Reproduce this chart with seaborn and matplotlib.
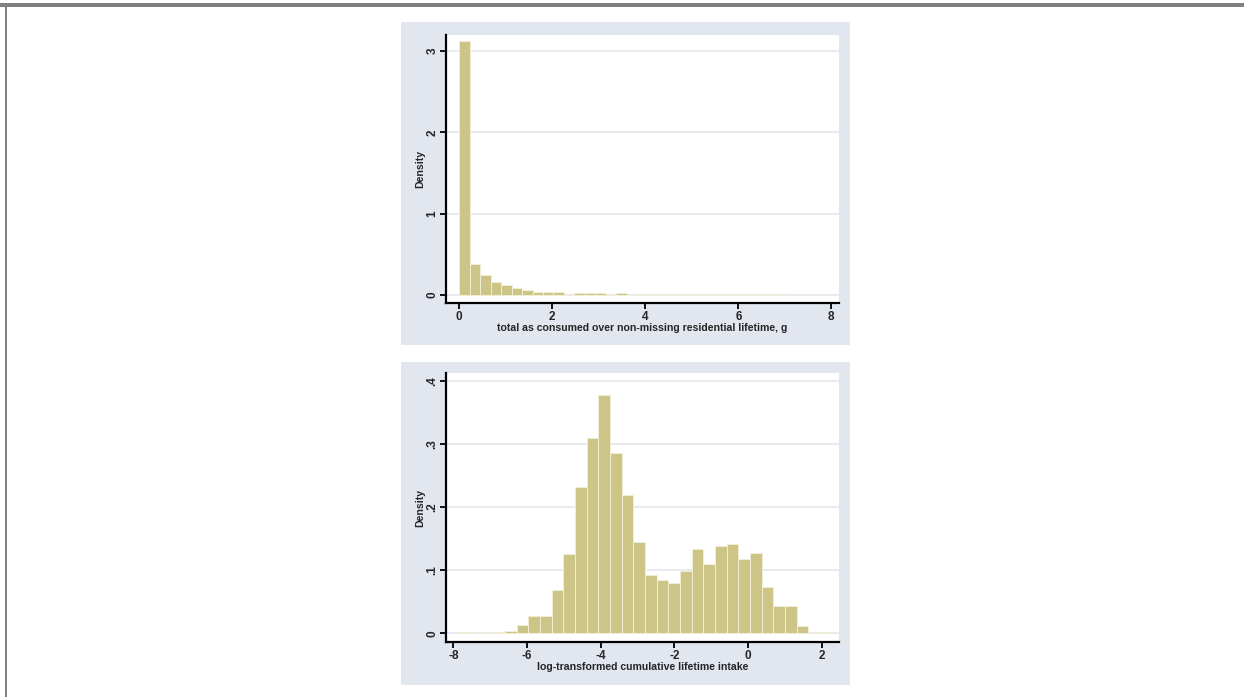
import numpy as np
import pandas as pd
import seaborn as sns
import matplotlib
matplotlib.use("Agg")
import matplotlib.pyplot as plt
from matplotlib.patches import Rectangle

# Histogram densities (32 equal-width bins each)
raw_start, raw_width = 0.0, 0.225
raw_density = [3.12, 0.377, 0.246, 0.164, 0.123, 0.090, 0.060, 0.040,
               0.040, 0.040, 0.0, 0.030, 0.030, 0.030, 0.0, 0.030,
               0.0, 0.0, 0.0, 0.0, 0.0, 0.0, 0.0, 0.0,
               0.0, 0.0, 0.0, 0.0, 0.0, 0.0, 0.0, 0.001]

log_start, log_width = -7.864, 0.3167
log_density = [0.002, 0.0, 0.0, 0.002, 0.004, 0.014, 0.028, 0.028,
               0.069, 0.126, 0.231, 0.310, 0.378, 0.285, 0.219, 0.145,
               0.092, 0.085, 0.079, 0.098, 0.134, 0.110, 0.138, 0.142,
               0.118, 0.128, 0.073, 0.043, 0.043, 0.012, 0.0, 0.002]

raw_label = "total as consumed over non-missing residential lifetime, g"
log_label = "log-transformed cumulative lifetime intake"
raw_ticks = [0, 2, 4, 6, 8]
raw_yticks = [0, 1, 2, 3]
raw_yticklabels = ["0", "1", "2", "3"]
log_ticks = [-8, -6, -4, -2, 0, 2]
log_yticks = [0, 0.1, 0.2, 0.3, 0.4]
log_yticklabels = ["0", ".1", ".2", ".3", ".4"]

BAR = "#cdc487"
PANEL = "#e1e6ef"
GRID = "#e3e7ee"
TEXT = "#262626"
FONT = ["Liberation Sans", "DejaVu Sans"]

sns.set_theme(style="white")
plt.rcParams["font.family"] = FONT

W, H = 1244, 697
fig = plt.figure(figsize=(W / 100, H / 100), dpi=100)
fig.patch.set_facecolor("white")


def fig_rect(x0, y0, x1, y1, **kw):
    fig.patches.append(Rectangle((x0 / W, 1 - y1 / H), (x1 - x0) / W, (y1 - y0) / H,
                                 transform=fig.transFigure, zorder=-10, **kw))


# outer frame: top band and left rule
fig_rect(0, 3, W, 7, facecolor="#808080", edgecolor="none")
fig_rect(5, 3, 7, H, facecolor="#808080", edgecolor="none")
# light panel backgrounds of the two graphs
fig_rect(401, 22, 850, 345, facecolor=PANEL, edgecolor="none")
fig_rect(401, 362, 850, 685, facecolor=PANEL, edgecolor="none")


def hist_panel(rect_px, start, width, dens, xlim, ylim, xticks, yticks, yticklabels, xlabel):
    x0, y0, x1, y1 = rect_px
    ax = fig.add_axes([x0 / W, 1 - y1 / H, (x1 - x0) / W, (y1 - y0) / H])
    ax.set_zorder(1)
    n = len(dens)
    edges = [start + width * i for i in range(n + 1)]
    mids = [start + width * (i + 0.5) for i in range(n)]
    sns.histplot(x=mids, weights=list(dens), bins=edges, stat="count",
                 color=BAR, alpha=1.0, edgecolor="#f1eed6", linewidth=0.7, ax=ax)
    ax.set_facecolor("white")
    ax.set_xlim(*xlim)
    ax.set_ylim(*ylim)
    for y in yticks:
        ax.axhline(y, color=GRID, lw=1.2, zorder=0)
    ax.set_axisbelow(True)
    for s in ["top", "right"]:
        ax.spines[s].set_visible(False)
    for s in ["left", "bottom"]:
        ax.spines[s].set_color("black")
        ax.spines[s].set_linewidth(1.6)
    ax.set_xticks(xticks)
    ax.set_xticklabels([str(t) for t in xticks])
    ax.set_yticks(yticks)
    ax.set_yticklabels(yticklabels, rotation=90, va="center")
    ax.tick_params(axis="both", direction="out", length=4, width=1.3, color="black",
                   labelsize=8.5, labelcolor=TEXT, pad=1.5, left=True, bottom=True)
    ax.set_xlabel(xlabel, fontsize=7.6, color=TEXT, fontweight="bold")
    ax.set_ylabel("Density", fontsize=7.6, color=TEXT, fontweight="bold")
    ax.xaxis.set_label_coords(0.5, -0.075)
    ax.yaxis.set_label_coords(-0.053, 0.5)
    for lbl in ax.get_xticklabels() + ax.get_yticklabels():
        lbl.set_fontweight("bold")
    ax.grid(False)
    return ax


hist_panel((446, 35, 839, 303), raw_start, raw_width, raw_density,
           (-0.286, 8.165), (-0.098, 3.197), raw_ticks, raw_yticks, raw_yticklabels, raw_label)
hist_panel((446, 373, 839, 642), log_start, log_width, log_density,
           (-8.2, 2.47), (-0.0137, 0.4123), log_ticks, log_yticks, log_yticklabels, log_label)

fig.savefig("out.png", dpi=100, facecolor="white")
